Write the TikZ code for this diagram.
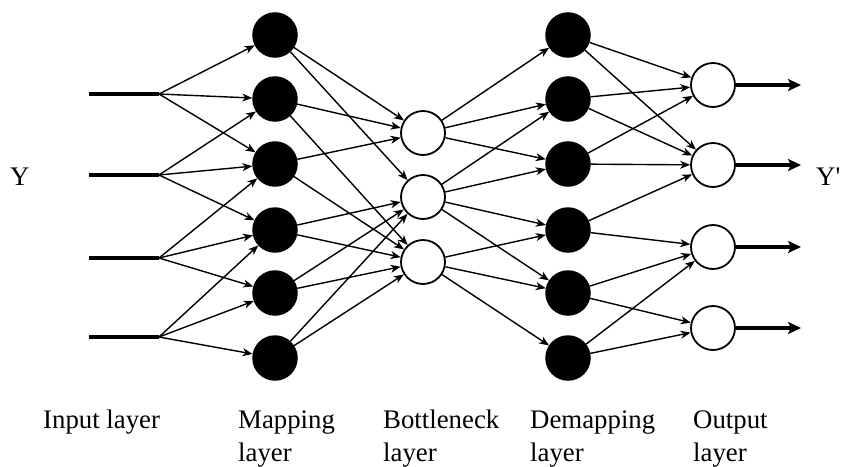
\documentclass[tikz,border=0pt]{standalone}
\usepackage{fontspec}
\setmainfont{Liberation Serif}
\usetikzlibrary{arrows.meta}
\begin{document}
\begin{tikzpicture}[x=1pt,y=-1pt,
  blackunit/.style={circle, draw, fill=black, line width=1.5pt, minimum size=44pt, inner sep=0pt},
  whiteunit/.style={circle, draw, fill=white, line width=1.8pt, minimum size=44pt, inner sep=0pt},
  link/.style={line width=1.4pt, -{Stealth[length=10pt,width=8pt,inset=3pt]}},
  feed/.style={line width=4pt},
  outarrow/.style={line width=4pt, -{Stealth[length=13pt,width=12pt,inset=3pt]}},
  lab/.style={anchor=base west, align=left, font=\fontsize{26.8}{33}\selectfont, inner sep=0pt}]
\useasboundingbox (0,0) rectangle (843,466);

% input feeds
\foreach \i/\y in {1/94,2/175,3/258,4/337}{
  \coordinate (is\i) at (89,\y);
  \coordinate (i\i) at (159,\y);
  \draw[feed] (is\i) -- (i\i);
}

% layers
\foreach \i/\y in {1/35,2/99,3/164,4/230,5/293,6/358}{
  \node[blackunit] (M\i) at (275,\y) {};
  \node[blackunit] (D\i) at (568,\y) {};
}
\foreach \i/\y in {1/133,2/197,3/262}{
  \node[whiteunit] (B\i) at (423,\y) {};
}
\foreach \i/\y in {1/85,2/165,3/247,4/328}{
  \node[whiteunit] (O\i) at (713,\y) {};
  \coordinate (o\i) at (801,\y);
  \draw[outarrow] (O\i) -- (o\i);
}

% input -> mapping
\foreach \s/\t in {1/1,1/2,1/3,2/2,2/3,2/4,3/3,3/4,3/5,4/4,4/5,4/6}{
  \draw[link] (i\s) -- (M\t);
}
% mapping -> bottleneck
\foreach \s/\t in {1/1,1/2,2/1,2/3,3/1,3/3,4/2,4/3,5/2,5/3,6/2,6/3}{
  \draw[link] (M\s) -- (B\t);
}
% bottleneck -> demapping
\foreach \s/\t in {1/1,1/2,1/3,2/2,2/3,2/4,2/5,3/4,3/5,3/6}{
  \draw[link] (B\s) -- (D\t);
}
% demapping -> output
\foreach \s/\t in {1/1,1/2,2/1,2/2,3/1,3/2,4/2,4/3,5/3,5/4,6/3,6/4}{
  \draw[link] (D\s) -- (O\t);
}

% labels (base anchor = baseline of the last line)
\node[lab] (yin) at (10,185) {Y};
\node[lab] (yout) at (816,185) {Y\textquotesingle};
\node[lab] (l1) at (43,428) {Input layer};
\node[lab] (l2) at (238,461) {Mapping\\layer};
\node[lab] (l3) at (383,461) {Bottleneck\\layer};
\node[lab] (l4) at (530,461) {Demapping\\layer};
\node[lab] (l5) at (693,461) {Output\\layer};
\end{tikzpicture}
\end{document}
